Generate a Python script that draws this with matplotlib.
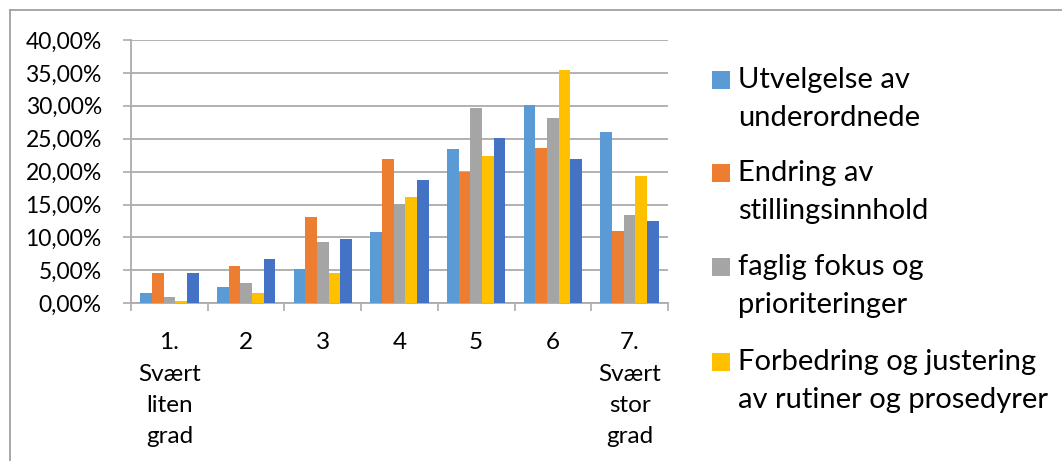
import matplotlib
matplotlib.use("Agg")
import matplotlib.pyplot as plt
from matplotlib.lines import Line2D
from matplotlib.patches import Rectangle
from matplotlib.ticker import FixedLocator, FuncFormatter, NullFormatter

plt.rcParams['font.family'] = ['Lato', 'DejaVu Sans']

categories = ["1.\nSvært\nliten\ngrad", "2", "3", "4", "5", "6", "7.\nSvært\nstor\ngrad"]

utvelgelse = [1.52, 2.53, 5.16, 10.84, 23.39, 30.18, 25.97]
endring = [4.66, 5.72, 13.06, 21.97, 19.90, 23.54, 10.94]
faglig = [0.96, 3.04, 9.32, 15.09, 29.67, 28.10, 13.47]
forbedring = [0.40, 1.52, 4.66, 16.10, 22.38, 35.44, 19.29]
annet = [4.66, 6.73, 9.82, 18.73, 25.06, 21.97, 12.50]

series_values = [utvelgelse, endring, faglig, forbedring, annet]
series_labels = ["Utvelgelse av\nunderordnede",
                 "Endring av\nstillingsinnhold",
                 "faglig fokus og\nprioriteringer",
                 "Forbedring og justering\nav rutiner og prosedyrer",
                 None]
colors = ["#5B9BD5", "#ED7D31", "#A5A5A5", "#FFC000", "#4472C4"]

yticks = [0, 5, 10, 15, 20, 25, 30, 35, 40]

W, H = 1062, 461
fig = plt.figure(figsize=(W / 100, H / 100), dpi=100)
ax = fig.add_axes([131 / W, 1 - 303.3 / H, (668 - 131) / W, (303.3 - 40) / H])

grid_col = "#ABABAB"
n = len(series_values)
bw = 0.152
for i, (vals, col) in enumerate(zip(series_values, colors)):
    xs = [k + (i - (n - 1) / 2) * bw for k in range(len(categories))]
    ax.bar(xs, vals, width=bw, color=col, zorder=3, linewidth=0)

ax.set_xlim(-0.5, len(categories) - 0.5)
ax.set_ylim(0, 40)
ax.set_yticks(yticks)
ax.yaxis.set_major_formatter(FuncFormatter(lambda v, p: f"{v:.2f}%".replace(".", ",")))
ax.grid(axis="y", color=grid_col, linewidth=1.3, zorder=0)

ax.xaxis.set_major_locator(FixedLocator([k - 0.5 for k in range(len(categories) + 1)]))
ax.xaxis.set_major_formatter(NullFormatter())
ax.xaxis.set_minor_locator(FixedLocator(list(range(len(categories)))))
ax.set_xticklabels(categories, minor=True)
ax.tick_params(axis="x", which="major", length=6, width=1.2, color=grid_col)
ax.tick_params(axis="x", which="minor", length=0, pad=21, labelsize=17.5)
for lbl in ax.get_xticklabels(minor=True):
    lbl.set_linespacing(1.6)
    lbl.set_verticalalignment("top")
ax.tick_params(axis="y", length=6, width=1.2, color=grid_col, pad=15, labelsize=16.5)

for s in ["top", "right"]:
    ax.spines[s].set_visible(False)
for s in ["left", "bottom"]:
    ax.spines[s].set_color(grid_col)
    ax.spines[s].set_linewidth(1.3)

# outer chart frame
frame_col = "#A0A0A0"
fig.add_artist(Line2D([10 / W, 10 / W], [1 - 10 / H, 0], transform=fig.transFigure,
                      color=frame_col, linewidth=1.3))
fig.add_artist(Line2D([10 / W, 1], [1 - 10 / H, 1 - 10 / H], transform=fig.transFigure,
                      color=frame_col, linewidth=1.3))

# legend
entry_y = [80, 173, 267, 362]
for y, lab, col in zip(entry_y, series_labels, colors):
    fig.add_artist(Rectangle((712 / W, 1 - (y + 9) / H), 18 / W, 18 / H,
                             transform=fig.transFigure, facecolor=col, edgecolor="none"))
    fig.text(738 / W, 1 - (y - 13) / H, lab, fontsize=21, va="top", ha="left",
             linespacing=1.55)

fig.savefig("out.png", dpi=100)
